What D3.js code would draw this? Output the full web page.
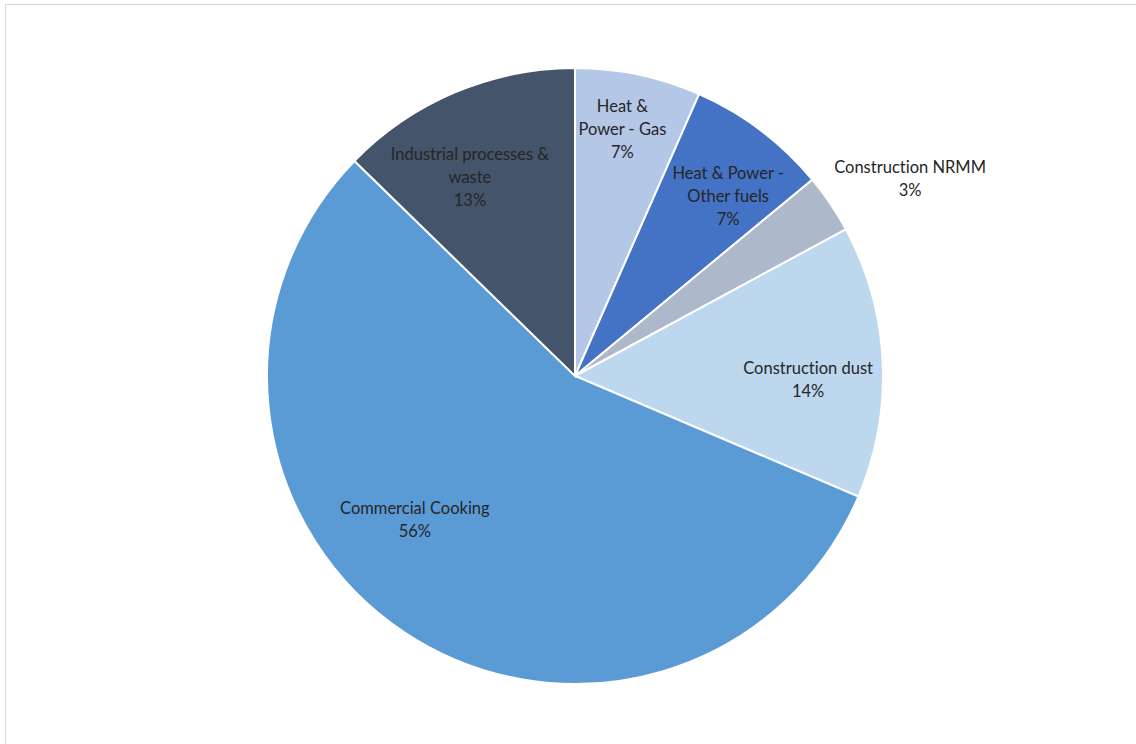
<!DOCTYPE html>
<html>
<head>
<meta charset="utf-8">
<script src="https://cdn.jsdelivr.net/npm/d3@7"></script>
<style>
  body { margin: 0; background: #fff; }
  text { font-family: "Lato", "Liberation Sans", sans-serif; font-size: 16.5px; fill: #262626;
         font-variant-ligatures: none; }
</style>
</head>
<body>
<div id="chart"></div>
<script>
var wt = 1136;
var ht = 744;

// slices, clockwise from 12 o'clock
var categories = ["Heat & Power - Gas", "Heat & Power - Other fuels", "Construction NRMM",
                  "Construction dust", "Commercial Cooking", "Industrial processes & waste"];
var values = [6.6, 7.4, 3.1, 14.3, 55.9, 12.7];
var labelLines = [
    ["Heat &", "Power - Gas", "7%"],
    ["Heat & Power -", "Other fuels", "7%"],
    ["Construction NRMM", "3%"],
    ["Construction dust", "14%"],
    ["Commercial Cooking", "56%"],
    ["Industrial processes &", "waste", "13%"]
];
var colors = ["#B4C7E7", "#4472C4", "#ADB9CA", "#BDD7EE", "#5B9BD5", "#44546A"];

// label placement: radius as fraction of pie radius, angle nudge in degrees
var labelRadius = [0.815, 0.766, 1.263, 0.757, 0.698, 0.73];
var labelShift = [-1, 3.4, 3.5, 3.7, 14.5, -5];

var cx = 575, cy = 376, radius = 308;

var svg = d3.select("#chart").append("svg")
    .attr("width", wt)
    .attr("height", ht);

svg.append("rect")
    .attr("x", 5.5)
    .attr("y", 4.5)
    .attr("width", wt)
    .attr("height", ht)
    .attr("fill", "#fff")
    .attr("stroke", "#d9d9d9");

var g = svg.append("g")
    .attr("transform", "translate(" + cx + "," + cy + ")");

var pie = d3.pie().sort(null).value(function (d) { return d; });
var arcs = pie(values);

var arc = d3.arc().innerRadius(0).outerRadius(radius);

g.selectAll("path.slice")
    .data(arcs)
    .enter().append("path")
    .attr("class", "slice")
    .attr("d", arc)
    .attr("fill", function (d, i) { return colors[i]; })
    .attr("stroke", "#fff")
    .attr("stroke-width", 2);

var lineH = 23;
var labels = g.selectAll("text.lbl")
    .data(arcs)
    .enter().append("text")
    .attr("class", "lbl")
    .attr("text-anchor", "middle")
    .attr("transform", function (d, i) {
        var a = (d.startAngle + d.endAngle) / 2 + labelShift[i] * Math.PI / 180;
        var r = radius * labelRadius[i];
        return "translate(" + (Math.sin(a) * r) + "," + (-Math.cos(a) * r) + ")";
    });

labels.each(function (d, i) {
    var lines = labelLines[i];
    var t = d3.select(this);
    lines.forEach(function (s, k) {
        t.append("tspan")
            .attr("x", 0)
            .attr("y", (k - (lines.length - 1) / 2) * lineH)
            .attr("dy", "0.35em")
            .text(s);
    });
});
</script>
</body>
</html>
